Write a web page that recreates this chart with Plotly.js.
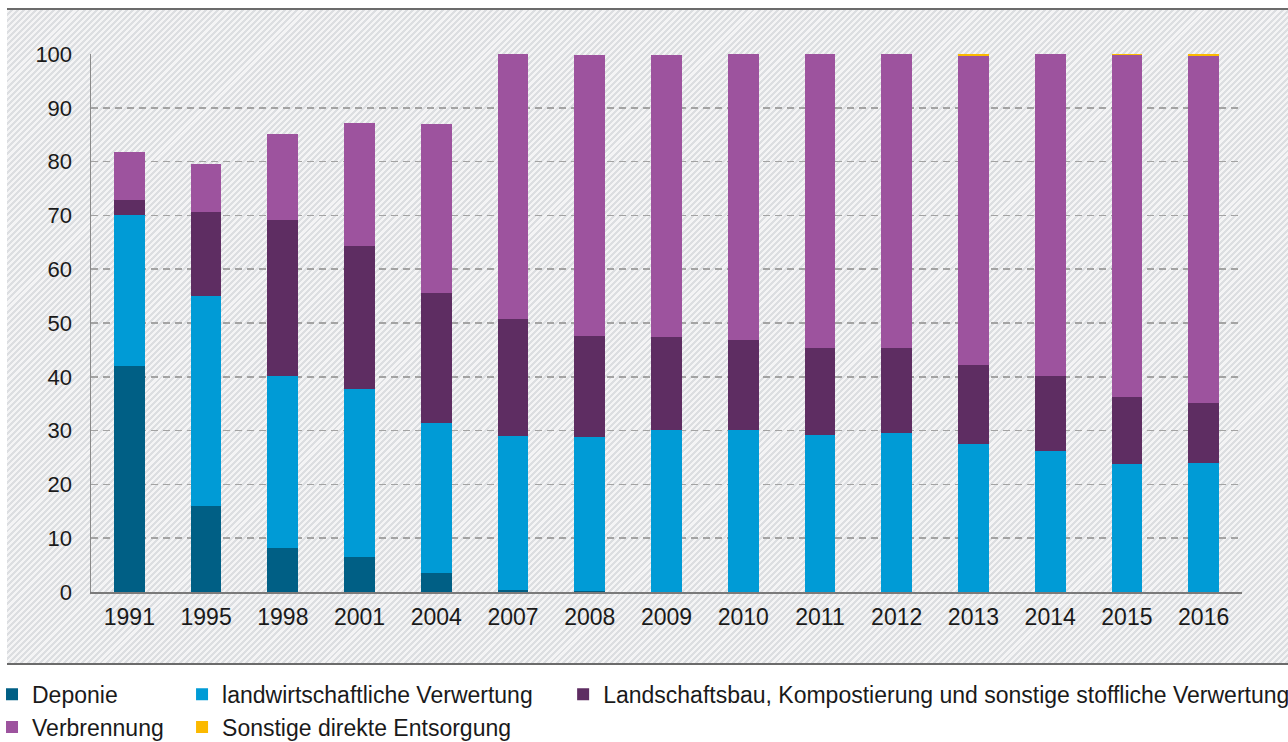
<!DOCTYPE html>
<html>
<head>
<meta charset="utf-8">
<script src="https://cdn.plot.ly/plotly-3.0.1.min.js"></script>
<style>
  html, body { margin: 0; padding: 0; background: #ffffff; width: 1288px; height: 742px; overflow: hidden; }
  #bg {
    position: absolute; left: 7px; top: 8px; width: 1281px; height: 653px;
    border-top: 2px solid #6b6b6b; border-bottom: 2px solid #6b6b6b;
    background: repeating-linear-gradient(135deg, #f4f4f5 0px, #f4f4f5 2.2px, #dcdee1 2.2px, #dcdee1 4.3px);
  }
  #chart { position: absolute; left: 0; top: 0; width: 1288px; height: 742px; }
</style>
</head>
<body>
<div id="bg"></div>
<div id="chart"></div>
<script>
const years = ['1991','1995','1998','2001','2004','2007','2008','2009','2010','2011','2012','2013','2014','2015','2016'];
const deponie       = [42.0, 16.0, 8.2, 6.5, 3.5, 0.3, 0.2, 0.0, 0.0, 0.0, 0.0, 0.0, 0.0, 0.0, 0.0];
const landwirtschaft = [28.1, 39.0, 31.9, 31.2, 27.9, 28.7, 28.6, 30.1, 30.1, 29.2, 29.5, 27.5, 26.2, 23.8, 24.0];
const landschaftsbau = [2.8, 15.6, 29.0, 26.6, 24.2, 21.7, 18.8, 17.3, 16.7, 16.2, 15.9, 14.7, 13.9, 12.4, 11.1];
const verbrennung   = [8.9, 9.0, 16.0, 22.9, 31.4, 49.3, 52.2, 52.4, 53.2, 54.6, 54.6, 57.5, 59.9, 63.7, 64.5];
const sonstige      = [0.0, 0.0, 0.0, 0.0, 0.0, 0.0, 0.0, 0.0, 0.0, 0.0, 0.0, 0.3, 0.1, 0.1, 0.4];
const yTicks = [0, 10, 20, 30, 40, 50, 60, 70, 80, 90, 100];

const FONT = '"Liberation Sans", Arial, sans-serif';

function bar(name, vals, color, legend, group) {
  return {
    type: 'bar', name: name, x: years, y: vals,
    marker: { color: color, line: { width: 0 } },
    legend: legend, legendgroup: group,
    hoverinfo: 'skip'
  };
}

const data = [
  bar('Deponie', deponie, '#005f85', 'legend', 'g1'),
  bar('landwirtschaftliche Verwertung', landwirtschaft, '#009bd6', 'legend2', 'g2'),
  bar('Landschaftsbau, Kompostierung und sonstige stoffliche Verwertung', landschaftsbau, '#5e2d62', 'legend3', 'g3'),
  bar('Verbrennung', verbrennung, '#9d539e', 'legend', 'g4'),
  bar('Sonstige direkte Entsorgung', sonstige, '#fbb900', 'legend2', 'g5')
];

const legendCommon = {
  orientation: 'v', xanchor: 'left', yanchor: 'top', y: -0.15,
  bgcolor: 'rgba(0,0,0,0)', borderwidth: 0,
  font: { family: FONT, size: 23, color: '#1a1a1a' },
  tracegroupgap: 12, traceorder: 'normal'
};

const layout = {
  width: 1288, height: 742,
  margin: { l: 91, r: 46, t: 54, b: 150, autoexpand: false },
  paper_bgcolor: 'rgba(0,0,0,0)', plot_bgcolor: 'rgba(0,0,0,0)',
  barmode: 'stack', bargap: 0.6,
  font: { family: FONT, size: 23, color: '#1a1a1a' },
  xaxis: {
    type: 'category', showgrid: false, zeroline: false,
    showline: true, linecolor: '#7a7a7a', linewidth: 2,
    ticks: '', ticklabelstandoff: 3, tickfont: { family: FONT, size: 23, color: '#1a1a1a' }
  },
  yaxis: {
    range: [0, 100], tickvals: yTicks, ticktext: yTicks.map(String),
    showgrid: true, gridcolor: '#a3a3a3', gridwidth: 1.5, griddash: '7px,5px',
    zeroline: false, showline: true, linecolor: '#8a8a8a', linewidth: 1.5,
    ticks: '', ticklabelstandoff: 13, tickfont: { family: FONT, size: 22, color: '#1a1a1a' }
  },
  showlegend: true,
  legend: Object.assign({}, legendCommon, { x: -0.086 }),
  legend2: Object.assign({}, legendCommon, { x: 0.0791 }),
  legend3: Object.assign({}, legendCommon, { x: 0.4102 })
};

Plotly.newPlot('chart', data, layout, { displayModeBar: false, staticPlot: true });
</script>
</body>
</html>
